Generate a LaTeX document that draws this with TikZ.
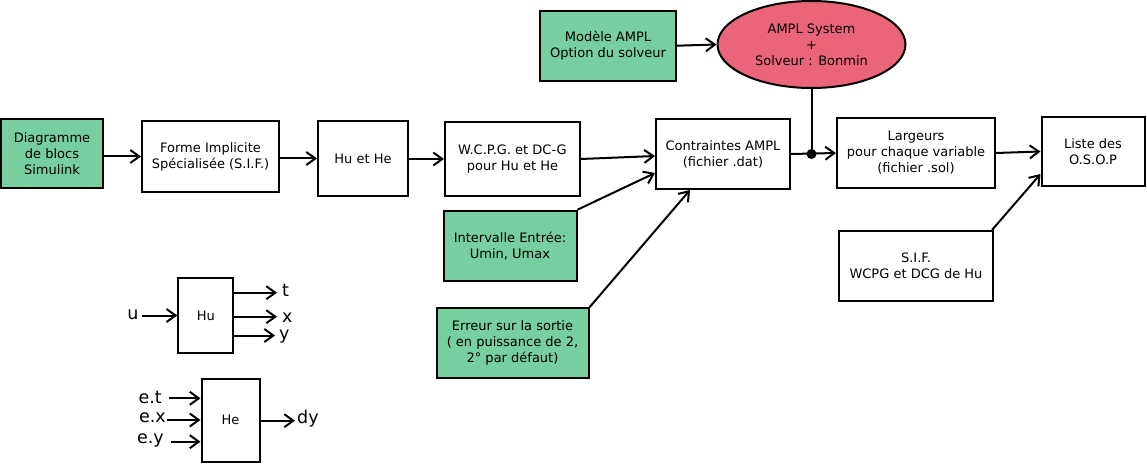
\documentclass[tikz,border=0pt]{standalone}
\usepackage{fontspec}
\setmainfont{DejaVu Sans}
\usetikzlibrary{arrows.meta,shapes.geometric,calc}
\definecolor{mygreen}{RGB}{119,206,158}
\definecolor{myred}{RGB}{235,101,122}
\begin{document}
\begin{tikzpicture}[x=1pt,y=-1pt,
  box/.style={draw, line width=2pt, align=center, inner sep=0pt, font=\fontsize{13}{16}\selectfont},
  gbox/.style={box, fill=mygreen},
  arr/.style={-{Straight Barb[length=9pt,width=13pt]}, line width=2pt},
  ln/.style={line width=2pt},
  lbl/.style={inner sep=0pt, font=\fontsize{17.5}{20}\selectfont}]
\useasboundingbox (0,0) rectangle (1147,465);
% main row
\node[gbox, minimum width=102, minimum height=69] (diag) at (52,153.5) {Diagramme\\de blocs\\Simulink};
\node[box, minimum width=137, minimum height=70] (forme) at (210.5,156.5) {Forme Implicite\\Spécialisée (S.I.F.)};
\node[box, minimum width=90, minimum height=74] (huhe) at (363,158.5) {Hu et He};
\node[box, minimum width=135, minimum height=74] (wcpg) at (512.5,159) {W.C.P.G. et DC-G\\pour Hu et He};
\node[box, minimum width=134, minimum height=70] (contr) at (723,154) {Contraintes AMPL\\(fichier .dat)};
\node[gbox, minimum width=136, minimum height=70] (modele) at (608,45.7) {Modèle AMPL\\Option du solveur};
\node[box, ellipse, fill=myred, minimum width=188, minimum height=87] (ampl) at (811.5,44.5) {AMPL System\\+\\Solveur : Bonmin};
\node[box, minimum width=158, minimum height=70] (larg) at (916,153) {Largeurs\\pour chaque variable\\(fichier .sol)};
\node[box, minimum width=103, minimum height=69] (liste) at (1093,151.5) {Liste des\\O.S.O.P};
\node[box, minimum width=154, minimum height=70] (sif) at (916,266) {S.I.F.\\WCPG et DCG de Hu};
\node[gbox, minimum width=133, minimum height=70] (interv) at (510,245.7) {Intervalle Entrée:\\Umin, Umax};
\node[gbox, minimum width=152, minimum height=70] (err) at (512.5,343.3) {Erreur sur la sortie\\( en puissance de 2,\\2° par défaut)};
% connectors
\draw[arr] (diag.east |- forme) -- (forme.west);
\draw[arr] (forme.east |- huhe) -- (huhe.west);
\draw[arr] (huhe.east |- wcpg) -- (wcpg.west);
\draw[arr] (wcpg.east) -- ($(contr.west)+(0,2)$);
\coordinate (c1) at ($(contr.west)+(0,19)$);
\draw[arr] (interv.north east) -- (c1);
\coordinate (c2) at ($(contr.south)+(-33,0)$);
\draw[arr] (err.north east) -- (c2);
\draw[arr] (modele.east) -- (ampl.west);
\coordinate (dot) at (ampl.south |- contr);
\draw[ln] (ampl.south) -- (dot);
\fill (dot) circle (5);
\draw[arr] (contr.east) -- (larg.west);
\draw[arr] (larg.east) -- (liste.west);
\coordinate (c3) at ($(liste.south west)+(0,-13)$);
\draw[arr] ($(sif.north east)+(-2,0)$) -- (c3);
% small Hu block
\node[box, minimum width=55, minimum height=75] (hu) at (205.8,315.8) {Hu};
\node[lbl] (u) at (133,315) {u};
\draw[arr] (142,315.5) -- (hu.west |- 0,315.5);
\node[lbl, anchor=west] (t) at (282,290) {t};
\node[lbl, anchor=west] (x) at (282,318) {x};
\node[lbl, anchor=west] (y) at (279,337) {y};
\draw[arr] (hu.east |- 0,292.7) -- (277,292.7);
\draw[arr] (hu.east |- 0,316.7) -- (277,316.7);
\draw[arr] (hu.east |- 0,335.5) -- (275,335.5);
% small He block
\node[box, minimum width=58, minimum height=83] (he) at (230.5,420) {He};
\node[lbl, anchor=east] (et) at (162,397) {e.t};
\node[lbl, anchor=east] (ex) at (166,418) {e.x};
\node[lbl, anchor=east] (ey) at (164,440) {e.y};
\draw[arr] (169,398.3) -- (he.west |- 0,398.3);
\draw[arr] (167,420) -- (he.west |- 0,420);
\draw[arr] (171,441.7) -- (he.west |- 0,441.7);
\node[lbl, anchor=west] (dy) at (297,419) {dy};
\draw[arr] (he.east |- 0,420.7) -- (295,420.7);
\end{tikzpicture}
\end{document}
